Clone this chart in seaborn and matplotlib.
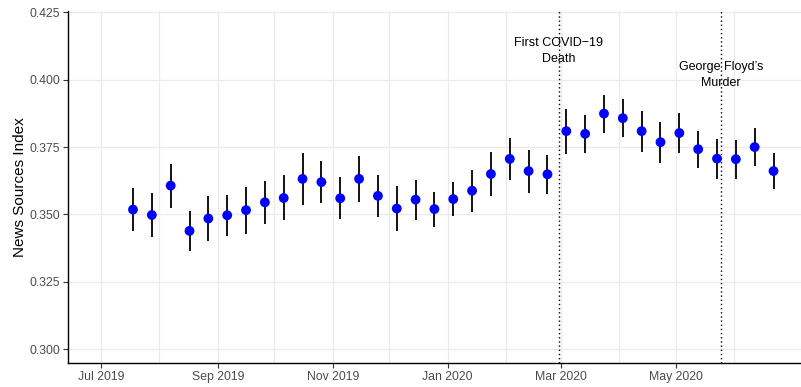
import matplotlib
matplotlib.use("Agg")
import matplotlib.pyplot as plt
import matplotlib.dates as mdates
import matplotlib.ticker as mticker
import seaborn as sns
import pandas as pd
import numpy as np

# ---------------- data ----------------
dates = ["2019-07-18", "2019-07-28", "2019-08-07", "2019-08-17", "2019-08-27",
         "2019-09-06", "2019-09-16", "2019-09-26", "2019-10-06", "2019-10-16",
         "2019-10-26", "2019-11-05", "2019-11-15", "2019-11-25", "2019-12-05",
         "2019-12-15", "2019-12-25", "2020-01-04", "2020-01-14", "2020-01-24",
         "2020-02-03", "2020-02-13", "2020-02-23", "2020-03-04", "2020-03-14",
         "2020-03-24", "2020-04-03", "2020-04-13", "2020-04-23", "2020-05-03",
         "2020-05-13", "2020-05-23", "2020-06-02", "2020-06-12", "2020-06-22"]
index_values = [0.3518, 0.3498, 0.3607, 0.3439, 0.3485, 0.3497, 0.3516, 0.3545, 0.3561, 0.3632,
                0.3620, 0.3560, 0.3632, 0.3569, 0.3522, 0.3555, 0.3520, 0.3557, 0.3588, 0.3650,
                0.3706, 0.3661, 0.3649, 0.3809, 0.3799, 0.3874, 0.3857, 0.3809, 0.3768, 0.3802,
                0.3742, 0.3707, 0.3705, 0.3750, 0.3661]
lower_ci = [0.3439, 0.3415, 0.3523, 0.3365, 0.3400, 0.3420, 0.3429, 0.3466, 0.3478, 0.3536,
            0.3544, 0.3482, 0.3547, 0.3492, 0.3438, 0.3481, 0.3455, 0.3494, 0.3509, 0.3569,
            0.3628, 0.3581, 0.3577, 0.3725, 0.3727, 0.3801, 0.3786, 0.3732, 0.3692, 0.3728,
            0.3672, 0.3633, 0.3633, 0.3680, 0.3595]
upper_ci = [0.3598, 0.3579, 0.3688, 0.3513, 0.3567, 0.3573, 0.3601, 0.3624, 0.3645, 0.3728,
            0.3698, 0.3638, 0.3716, 0.3645, 0.3606, 0.3627, 0.3583, 0.3621, 0.3666, 0.3732,
            0.3784, 0.3739, 0.3720, 0.3890, 0.3868, 0.3944, 0.3927, 0.3884, 0.3842, 0.3876,
            0.3811, 0.3781, 0.3775, 0.3821, 0.3728]
event_dates = ["2020-02-29", "2020-05-25"]
event_labels = ["First COVID\u221219\nDeath", "George Floyd\u2019s\nMurder"]
event_label_y = [0.4107, 0.4019]
x_major_ticks = ["2019-07-01", "2019-09-01", "2019-11-01", "2020-01-01", "2020-03-01", "2020-05-01"]
x_minor_ticks = ["2019-08-01", "2019-10-01", "2019-12-01", "2020-02-01", "2020-04-01", "2020-06-01"]
y_ticks = [0.300, 0.325, 0.350, 0.375, 0.400, 0.425]
y_label = "News Sources Index"

df = pd.DataFrame({"date": pd.to_datetime(dates), "value": index_values,
                   "lo": lower_ci, "hi": upper_ci})

# ---------------- style ----------------
sns.set_theme(style="white")
plt.rcParams["font.family"] = ["Liberation Sans", "DejaVu Sans"]

fig = plt.figure(figsize=(8.01, 3.87), dpi=100)
ax = fig.add_axes([68 / 801, (387 - 363) / 387, 1 - 68 / 801, (363 - 10.9) / 387])

# grid
ax.set_axisbelow(True)
ax.grid(True, which="major", axis="both", color="#EBEBEB", linewidth=0.9)
ax.grid(True, which="minor", axis="x", color="#EBEBEB", linewidth=0.9)

# event lines
for d in event_dates:
    ax.axvline(pd.Timestamp(d), color="black", linewidth=1.0,
               linestyle=(0, (1, 2)), zorder=2)

# error bars
ax.vlines(df["date"], df["lo"], df["hi"], color="black", linewidth=1.3, zorder=3)

# points
sns.scatterplot(data=df, x="date", y="value", ax=ax, color="#0000FF",
                s=50, edgecolor="none", linewidth=0, zorder=4, legend=False)

# annotations
for d, lab, yy in zip(event_dates, event_labels, event_label_y):
    ax.text(pd.Timestamp(d), yy, lab, ha="center", va="center", fontsize=9,
            color="black", linespacing=1.45, zorder=5)

# axes ranges
ax.set_xlim(pd.Timestamp("2019-06-13 12:00"), pd.Timestamp("2020-07-06 14:00"))
ax.set_ylim(0.2949, 0.4255)

ax.xaxis.set_major_locator(mticker.FixedLocator(mdates.date2num(pd.to_datetime(x_major_ticks))))
ax.xaxis.set_minor_locator(mticker.FixedLocator(mdates.date2num(pd.to_datetime(x_minor_ticks))))
ax.xaxis.set_major_formatter(mdates.DateFormatter("%b %Y"))
ax.set_yticks(y_ticks)
ax.set_yticklabels([f"{v:.3f}" for v in y_ticks])

ax.tick_params(axis="both", which="major", length=3.5, width=0.8, color="#333333",
               labelsize=8.8, labelcolor="#4D4D4D", pad=2.2, direction="out",
               bottom=True, left=True)
ax.tick_params(axis="x", which="minor", length=0)

for side in ["top", "right"]:
    ax.spines[side].set_visible(False)
for side in ["left", "bottom"]:
    ax.spines[side].set_visible(True)
    ax.spines[side].set_color("black")
    ax.spines[side].set_linewidth(1.0)

ax.set_xlabel("")
ax.set_ylabel(y_label, fontsize=11, color="black")
ax.yaxis.set_label_coords(-0.056, 0.5)

fig.savefig("out.png", dpi=100)
